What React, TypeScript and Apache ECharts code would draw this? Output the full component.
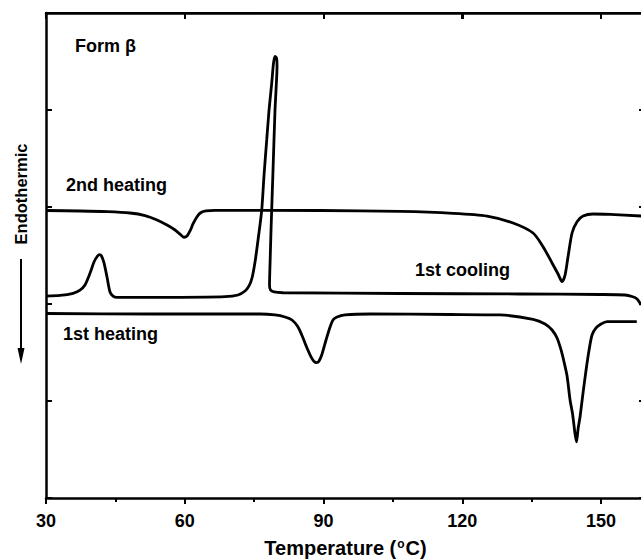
import React, { useEffect, useRef, useState } from "react";
import * as echarts from "echarts";

// Temperature (°C) / heat flow (arbitrary units, endothermic down)
const secondHeating: number[][] = [
  [30.0, 2.964], [37.35, 2.959], [43.19, 2.952], [48.16, 2.938], [51.41, 2.912],
  [54.0, 2.866], [56.16, 2.814], [57.89, 2.763], [59.19, 2.711], [59.84, 2.688],
  [60.49, 2.701], [61.14, 2.753], [61.78, 2.825], [62.65, 2.9], [63.51, 2.943],
  [64.59, 2.961], [66.54, 2.966], [89.24, 2.964], [106.54, 2.954], [118.0, 2.935],
  [125.35, 2.907], [130.97, 2.835], [135.3, 2.732], [137.46, 2.591], [139.41, 2.423],
  [140.7, 2.309], [141.57, 2.23], [142.22, 2.299], [142.86, 2.488], [143.73, 2.732],
  [144.81, 2.849], [146.11, 2.907], [148.27, 2.928], [151.95, 2.923], [158.65, 2.907],
];

const firstCooling: number[][] = [
  [30.0, 2.082], [33.03, 2.088], [35.84, 2.11], [37.35, 2.144], [38.43, 2.196],
  [39.51, 2.316], [40.38, 2.433], [41.14, 2.495], [41.57, 2.508], [42.0, 2.495],
  [42.54, 2.423], [43.19, 2.278], [43.84, 2.124], [44.49, 2.082], [45.35, 2.069],
  [58.97, 2.069], [68.7, 2.075], [71.51, 2.093], [73.03, 2.134], [73.89, 2.186],
  [74.54, 2.268], [75.19, 2.433], [75.84, 2.66], [76.64, 2.969], [77.14, 3.33],
  [77.72, 3.691], [78.22, 4.0], [78.8, 4.278], [79.19, 4.485], [79.51, 4.552],
  [79.84, 4.536], [79.95, 4.454], [79.73, 4.206], [79.51, 4.0], [79.08, 3.381],
  [78.65, 2.763], [78.43, 2.402], [78.32, 2.196], [78.54, 2.144], [79.3, 2.124],
  [81.24, 2.116], [106.54, 2.108], [132.49, 2.103], [149.78, 2.098], [155.19, 2.093],
  [156.7, 2.077], [157.78, 2.052], [158.65, 1.99],
];

const firstHeating: number[][] = [
  [30.0, 1.902], [52.49, 1.897], [76.27, 1.897], [79.51, 1.887], [81.68, 1.866],
  [83.19, 1.835], [84.49, 1.763], [85.57, 1.649], [86.43, 1.546], [87.3, 1.454],
  [87.95, 1.407], [88.53, 1.395], [89.03, 1.412], [89.68, 1.485], [90.54, 1.629],
  [91.41, 1.763], [92.05, 1.835], [92.92, 1.866], [94.65, 1.887], [100.05, 1.897],
  [117.35, 1.892], [128.16, 1.887], [135.3, 1.842], [137.89, 1.794], [139.41, 1.732],
  [140.49, 1.649], [141.35, 1.526], [142.0, 1.402], [142.65, 1.258], [143.3, 1.01],
  [143.84, 0.866], [144.38, 0.66], [144.7, 0.58], [145.03, 0.711], [145.46, 0.838],
  [146.11, 1.086], [146.76, 1.32], [147.41, 1.526], [148.05, 1.68], [148.92, 1.753],
  [150.0, 1.794], [151.3, 1.818], [157.72, 1.818],
];

const xMin = 30;
const xMax = 159.5;
const xInterval = 30;
const yMin = 0;
const yMax = 5;
const yInterval = 1;
const topTickValues = [60, 90, 120, 150];

const curveLabels = [
  { text: "Form β", x: 75, y: 48 },
  { text: "2nd heating", x: 66, y: 187 },
  { text: "1st cooling", x: 415, y: 272 },
  { text: "1st heating", x: 63, y: 336 },
];

const FONT = "Liberation Sans, Arial, sans-serif";

type Frame = { left: number; right: number; top: number; ticks: number[] };

export default function App() {
  const ref = useRef<HTMLDivElement>(null);
  const [frame, setFrame] = useState<Frame | null>(null);
  useEffect(() => {
    if (!ref.current) return;
    const chart = echarts.init(ref.current, undefined, { renderer: "svg" });
    const axisLine = () => ({ show: true, onZero: false, lineStyle: { color: "#000", width: 2.5 } });
    const tick = (inside: boolean) => ({ show: true, inside, length: 6, lineStyle: { color: "#000", width: 2 } });
    const lineSeries = (name: string, data: number[][]) => ({
      name,
      type: "line",
      data,
      smooth: 0.25,
      symbol: "none",
      lineStyle: { color: "#000", width: 2.8 },
    });
    chart.setOption({
      animation: false,
      backgroundColor: "#fff",
      title: curveLabels.map((l) => ({
        text: l.text,
        left: l.x,
        top: l.y - 11,
        padding: 0,
        textStyle: { fontFamily: FONT, fontWeight: "bold", fontSize: 18, color: "#000" },
      })),
      grid: { left: 46, top: 13, width: 599, height: 485, outerBoundsMode: "none" },
      xAxis: [
        {
          type: "value",
          position: "bottom",
          min: xMin,
          max: xMax,
          interval: xInterval,
          axisLine: axisLine(),
          axisTick: tick(false),
          minorTick: { show: true, splitNumber: 2, length: 4, lineStyle: { color: "#000", width: 2 } },
          splitLine: { show: false },
          minorSplitLine: { show: false },
          axisLabel: {
            showMaxLabel: false,
            margin: 14,
            color: "#000",
            fontFamily: FONT,
            fontWeight: "bold",
            fontSize: 18,
          },
          name: "{a|Temperature (}{b|o}{a|C)}",
          nameLocation: "middle",
          nameGap: 40,
          nameTextStyle: {
            rich: {
              a: { fontFamily: FONT, fontWeight: "bold", fontSize: 20, color: "#000" },
              b: { fontFamily: FONT, fontWeight: "bold", fontSize: 12, color: "#000", verticalAlign: "top", padding: [0, 1, 8, 1] },
            },
          },
        },
        {
          type: "value",
          position: "top",
          min: xMin,
          max: xMax,
          interval: xInterval,
          axisLine: axisLine(),
          axisTick: tick(true),
          axisLabel: { show: false },
          splitLine: { show: false },
        },
      ],
      yAxis: [
        {
          type: "value",
          position: "left",
          min: yMin,
          max: yMax,
          interval: yInterval,
          axisLine: axisLine(),
          axisTick: tick(true),
          axisLabel: { show: false },
          splitLine: { show: false },
        },
        {
          type: "value",
          position: "right",
          min: yMin,
          max: yMax,
          interval: yInterval,
          axisLine: axisLine(),
          axisTick: tick(true),
          axisLabel: { show: false },
          splitLine: { show: false },
        },
      ],
      series: [
        lineSeries("2nd heating", secondHeating),
        lineSeries("1st cooling", firstCooling),
        lineSeries("1st heating", firstHeating),
      ],
      graphic: [
        {
          type: "text",
          x: 21,
          y: 194,
          rotation: Math.PI / 2,
          style: {
            text: "Endothermic",
            fontFamily: FONT,
            fontWeight: "bold",
            fontSize: 16.5,
            fill: "#000",
            align: "center",
            verticalAlign: "middle",
          },
        },
        {
          type: "line",
          shape: { x1: 21, y1: 259, x2: 21, y2: 352 },
          style: { stroke: "#000", lineWidth: 2 },
        },
        {
          type: "polygon",
          shape: { points: [[17.5, 348], [24.5, 348], [21, 364]] },
          style: { fill: "#000" },
        },
      ],
    });
    // top frame edge placed through the chart's own scales
    const finder = { xAxisIndex: 0, yAxisIndex: 0 };
    const p0 = chart.convertToPixel(finder, [xMin, yMax]) as number[];
    const p1 = chart.convertToPixel(finder, [xMax, yMax]) as number[];
    const ticks = topTickValues.map((v) => (chart.convertToPixel(finder, [v, yMax]) as number[])[0]);
    if (p0 && p1) setFrame({ left: p0[0], right: p1[0], top: p0[1], ticks });
    return () => chart.dispose();
  }, []);
  return (
    <div style={{ position: "absolute", left: 0, top: 0, width: 641, height: 559, overflow: "hidden", background: "#fff" }}>
      <div ref={ref} style={{ width: 660, height: 559 }} />
      {frame && (
        <>
          <div
            style={{
              position: "absolute",
              left: frame.left - 1.25,
              top: frame.top - 1.25,
              width: frame.right - frame.left + 2.5,
              height: 2.5,
              background: "#000",
              zIndex: 10,
              pointerEvents: "none",
            }}
          />
          {frame.ticks.map((x, i) => (
            <div
              key={i}
              style={{
                position: "absolute",
                left: x - 1,
                top: frame.top,
                width: 2,
                height: 6,
                background: "#000",
                zIndex: 10,
                pointerEvents: "none",
              }}
            />
          ))}
        </>
      )}
    </div>
  );
}
